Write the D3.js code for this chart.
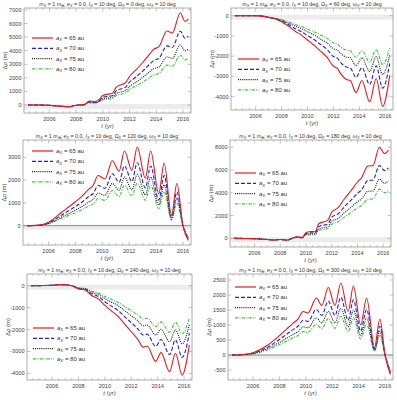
<!DOCTYPE html>
<html lang="en">
<head>
<meta charset="UTF-8">
<title>Delta rho panels</title>
<style>
  body { margin: 0; background: #fff; }
  svg { display: block; font-family: "Liberation Sans", Arial, sans-serif; }
  .frame { fill: none; stroke: #9a9a9a; stroke-width: 0.8px; }
  .tick { stroke: #9a9a9a; stroke-width: 0.6px; }
  .ticklab { font-size: 5.6px; fill: #444; }
  .title { font-size: 5.3px; fill: #333; }
  .axlab { font-size: 6px; fill: #444; }
  .leg { font-size: 6px; fill: #333; }
</style>
</head>
<body>
<svg width="397" height="400"></svg>
<script src="https://d3js.org/d3.v7.min.js"></script>
<script>
// series labels (a_X in au)
const semiAxes = [65, 70, 75, 80];

// Omega_X = 0 deg
const t_om0 = [2004.4, 2005, 2006, 2007, 2007.5, 2007.8, 2008.2, 2008.6, 2009.0, 2009.4, 2009.7, 2010.0, 2010.4, 2010.7, 2011.0, 2011.4, 2011.7, 2012.0, 2012.5, 2013.0, 2013.5, 2013.8, 2014.2, 2014.8, 2015.2, 2015.8, 2016.15, 2016.4];
const om0_a65 = [0, 0, -30, -100, -130, -60, 0, 30, 300, 250, 380, 700, 800, 850, 1300, 1500, 1650, 2100, 2600, 3150, 3750, 4100, 4300, 5450, 5300, 6800, 6150, 6350];
const om0_a70 = [0, 0, -30, -100, -130, -60, 0, 25, 250, 200, 300, 560, 640, 680, 1040, 1200, 1320, 1680, 2080, 2520, 3000, 3280, 3440, 4360, 4240, 5440, 4920, 5080];
const om0_a75 = [0, 0, -30, -100, -130, -60, 0, 20, 200, 160, 250, 455, 520, 550, 845, 975, 1070, 1365, 1690, 2050, 2440, 2665, 2795, 3540, 3445, 4420, 4000, 4130];
const om0_a80 = [0, 0, -30, -100, -130, -60, 0, 15, 160, 135, 205, 380, 430, 460, 700, 810, 890, 1135, 1400, 1700, 2025, 2215, 2320, 2940, 2860, 3670, 3320, 3430];

// Omega_X = 60 deg
const t_om60 = [2004.4, 2006, 2006.5, 2007, 2007.5, 2008, 2008.5, 2009, 2009.5, 2010, 2010.5, 2011, 2011.5, 2012, 2012.3, 2012.6, 2013.0, 2013.3, 2013.75, 2014.2, 2014.8, 2015.3, 2015.8, 2016.35];
const om60_a65 = [0, 0, -20, -80, -150, -300, -500, -750, -950, -1200, -1450, -1750, -2050, -2500, -2600, -2900, -3150, -3200, -3800, -3200, -4250, -3100, -4480, -2950];
const om60_a70 = [0, 0, -20, -80, -150, -260, -420, -620, -780, -980, -1180, -1420, -1660, -2020, -2100, -2340, -2540, -2580, -3050, -2560, -3400, -2480, -3580, -2360];
const om60_a75 = [0, 0, -20, -80, -140, -220, -350, -500, -630, -790, -950, -1150, -1340, -1630, -1700, -1890, -2050, -2080, -2470, -2080, -2760, -2020, -2910, -1920];
const om60_a80 = [0, 0, -20, -80, -130, -190, -290, -420, -530, -660, -790, -950, -1110, -1350, -1400, -1570, -1700, -1730, -2050, -1730, -2300, -1670, -2420, -1590];

// Omega_X = 120 deg
const t_om120 = [2004.4, 2005, 2005.5, 2006, 2007, 2008, 2008.5, 2009, 2009.3, 2009.7, 2010.2, 2010.75, 2011.25, 2011.65, 2012.2, 2012.6, 2013.2, 2013.6, 2014.2, 2014.6, 2015.15, 2015.55, 2016.0, 2016.4];
const om120_a65 = [0, 10, 40, 150, 600, 1050, 1300, 1600, 1750, 2200, 2050, 2850, 2380, 3280, 2420, 3450, 2080, 3280, 1400, 2750, 450, 1850, 0, -650];
const om120_a70 = [0, 8, 32, 120, 480, 840, 1040, 1280, 1400, 1760, 1640, 2280, 1900, 2620, 1940, 2760, 1660, 2620, 1120, 2200, 360, 1480, 0, -600];
const om120_a75 = [0, 6, 26, 100, 390, 680, 845, 1040, 1140, 1430, 1330, 1850, 1550, 2130, 1570, 2240, 1350, 2130, 910, 1790, 290, 1200, 0, -560];
const om120_a80 = [0, 5, 22, 80, 325, 570, 700, 865, 945, 1190, 1110, 1540, 1285, 1770, 1310, 1860, 1120, 1770, 755, 1485, 245, 1000, 0, -520];

// Omega_X = 180 deg
const t_om180 = [2004.4, 2006, 2007, 2007.5, 2008, 2008.5, 2009.0, 2009.3, 2009.7, 2010.0, 2010.4, 2010.7, 2011.0, 2011.4, 2011.7, 2012.0, 2012.5, 2013.0, 2013.5, 2014.0, 2014.3, 2014.8, 2015.2, 2015.7, 2016.1, 2016.4];
const om180_a65 = [0, -30, -100, -150, -100, -160, 50, 130, 80, 500, 600, 580, 1300, 1450, 1600, 2300, 2700, 3500, 4200, 4950, 5300, 6350, 6400, 8000, 7450, 7750];
const om180_a70 = [0, -30, -100, -150, -100, -160, 40, 105, 65, 400, 480, 465, 1040, 1160, 1280, 1840, 2160, 2800, 3360, 3960, 4240, 5080, 5120, 6400, 5960, 6200];
const om180_a75 = [0, -30, -100, -150, -100, -160, 35, 85, 50, 325, 390, 380, 845, 940, 1040, 1495, 1755, 2275, 2730, 3220, 3445, 4130, 4160, 5200, 4840, 5040];
const om180_a80 = [0, -30, -100, -150, -100, -160, 30, 70, 45, 270, 325, 315, 700, 785, 865, 1240, 1460, 1890, 2270, 2670, 2860, 3430, 3455, 4320, 4020, 4190];

// Omega_X = 240 deg
const t_om240 = [2004.4, 2006, 2006.6, 2007.5, 2008, 2008.5, 2009, 2009.5, 2010, 2010.5, 2011, 2011.5, 2012, 2012.5, 2012.9, 2013.2, 2013.85, 2014.25, 2014.9, 2015.35, 2015.85, 2016.4];
const om240_a65 = [0, 20, 50, 0, -150, -200, -450, -600, -900, -1150, -1400, -1750, -2100, -2450, -2800, -2750, -3450, -3050, -3920, -3080, -4080, -2700];
const om240_a70 = [0, 20, 50, 0, -130, -170, -370, -490, -730, -930, -1130, -1410, -1690, -1970, -2250, -2210, -2770, -2450, -3140, -2470, -3270, -2160];
const om240_a75 = [0, 20, 50, 0, -110, -140, -300, -400, -590, -750, -910, -1140, -1370, -1600, -1830, -1790, -2250, -1990, -2550, -2010, -2650, -1760];
const om240_a80 = [0, 20, 50, 0, -90, -120, -250, -330, -490, -620, -760, -950, -1140, -1330, -1520, -1490, -1870, -1650, -2120, -1670, -2200, -1460];

// Omega_X = 300 deg
const t_om300 = [2004.4, 2005, 2006, 2007, 2008, 2008.5, 2009, 2009.4, 2009.8, 2010.15, 2010.8, 2011.2, 2011.7, 2012.2, 2012.65, 2013.2, 2013.6, 2014.15, 2014.6, 2015.2, 2015.6, 2016.0, 2016.4];
const om300_a65 = [0, 10, 80, 300, 650, 850, 1050, 1200, 1450, 1400, 1900, 1650, 2250, 1650, 2400, 1450, 2300, 1000, 1900, 250, 1200, 0, -650];
const om300_a70 = [0, 8, 65, 240, 520, 680, 840, 960, 1160, 1120, 1520, 1320, 1800, 1320, 1920, 1160, 1840, 800, 1520, 200, 960, 0, -600];
const om300_a75 = [0, 7, 52, 195, 420, 550, 680, 780, 940, 910, 1235, 1070, 1460, 1070, 1560, 940, 1495, 650, 1235, 160, 780, 0, -560];
const om300_a80 = [0, 6, 43, 160, 350, 460, 570, 650, 780, 755, 1025, 890, 1215, 890, 1295, 780, 1240, 540, 1025, 135, 650, 0, -520];

const yearTicks = [2006, 2008, 2010, 2012, 2014, 2016];

const styles = [
  { color: "#e8191c", dash: null },
  { color: "#1f1fe0", dash: "4,2" },
  { color: "#1a1a1a", dash: "1,1.1" },
  { color: "#3cc43c", dash: "3.2,1.3,1,1.3" }
];

const panels = [
  { omega: 0, t: t_om0, ys: [om0_a65, om0_a70, om0_a75, om0_a80],
    fx: [24, 191], fy: [8, 113], yd: [-590, 7150], yt: [0, 1000, 2000, 3000, 4000, 5000, 6000, 7000],
    leg: [32, 38], axisLine: false },
  { omega: 60, t: t_om60, ys: [om60_a65, om60_a70, om60_a75, om60_a80],
    fx: [231, 393], fy: [8, 110], yd: [-4660, 380], yt: [0, -1000, -2000, -3000, -4000],
    leg: [238, 59], axisLine: false },
  { omega: 120, t: t_om120, ys: [om120_a65, om120_a70, om120_a75, om120_a80],
    fx: [23, 191], fy: [140, 245], yd: [-850, 3760], yt: [0, 1000, 2000, 3000],
    leg: [32, 151], axisLine: true },
  { omega: 180, t: t_om180, ys: [om180_a65, om180_a70, om180_a75, om180_a80],
    fx: [230, 391], fy: [140, 247], yd: [-760, 8640], yt: [0, 2000, 4000, 6000, 8000],
    leg: [235, 173], axisLine: false },
  { omega: 240, t: t_om240, ys: [om240_a65, om240_a70, om240_a75, om240_a80],
    fx: [27, 192], fy: [274, 380], yd: [-4300, 534], yt: [0, -1000, -2000, -3000, -4000],
    leg: [33, 328], axisLine: false },
  { omega: 300, t: t_om300, ys: [om300_a65, om300_a70, om300_a75, om300_a80],
    fx: [228, 393], fy: [274, 380], yd: [-830, 2700], yt: [-500, 0, 500, 1000, 1500, 2000, 2500],
    leg: [235, 287], axisLine: true }
];

const svg = d3.select("svg");

// writes text made of [string, kind] parts; kind: "i" italic, "s" subscript, "si" italic subscript
function rich(el, parts) {
  let down = false;
  parts.forEach(([str, kind]) => {
    const ts = el.append("tspan").text(str);
    const sub = kind === "s" || kind === "si";
    if (kind === "i" || kind === "si") ts.attr("font-style", "italic");
    if (sub) ts.attr("font-size", "0.72em");
    if (sub && !down) { ts.attr("dy", 1.3); down = true; }
    else if (!sub && down) { ts.attr("dy", -1.3); down = false; }
  });
}

panels.forEach(p => {
  const x = d3.scaleLinear().domain([2004.1, 2016.6]).range(p.fx);
  const y = d3.scaleLinear().domain(p.yd).range([p.fy[1], p.fy[0]]);
  const g = svg.append("g");

  // light band along zero
  g.append("rect")
    .attr("x", p.fx[0]).attr("width", p.fx[1] - p.fx[0])
    .attr("y", y(0) - 1).attr("height", 5)
    .attr("fill", "#ececec");
  if (p.axisLine) {
    g.append("line")
      .attr("x1", p.fx[0]).attr("x2", p.fx[1])
      .attr("y1", y(0)).attr("y2", y(0))
      .attr("stroke", "#777").attr("stroke-width", 0.8);
  }

  // curves, 80 au drawn first so red is on top
  const line = d3.line().x(d => x(d[0])).y(d => y(d[1])).curve(d3.curveMonotoneX);
  for (let k = 3; k >= 0; k--) {
    const pts = p.t.map((tt, i) => [tt, p.ys[k][i]]);
    g.append("path")
      .attr("d", line(pts))
      .attr("fill", "none")
      .attr("stroke", styles[k].color)
      .attr("stroke-width", 1.1)
      .attr("stroke-dasharray", styles[k].dash);
  }

  // frame and ticks
  g.append("rect").attr("class", "frame")
    .attr("x", p.fx[0]).attr("y", p.fy[0])
    .attr("width", p.fx[1] - p.fx[0]).attr("height", p.fy[1] - p.fy[0]);

  const minorX = d3.range(2004.5, 2016.6, 0.5).filter(v => !yearTicks.includes(v));
  yearTicks.forEach(v => {
    g.append("line").attr("class", "tick").attr("x1", x(v)).attr("x2", x(v)).attr("y1", p.fy[1]).attr("y2", p.fy[1] - 3.5);
    g.append("line").attr("class", "tick").attr("x1", x(v)).attr("x2", x(v)).attr("y1", p.fy[0]).attr("y2", p.fy[0] + 3.5);
    g.append("text").attr("class", "ticklab").attr("x", x(v)).attr("y", p.fy[1] + 7.5)
      .attr("text-anchor", "middle").text(v);
  });
  minorX.forEach(v => {
    g.append("line").attr("class", "tick").attr("x1", x(v)).attr("x2", x(v)).attr("y1", p.fy[1]).attr("y2", p.fy[1] - 1.8);
    g.append("line").attr("class", "tick").attr("x1", x(v)).attr("x2", x(v)).attr("y1", p.fy[0]).attr("y2", p.fy[0] + 1.8);
  });
  p.yt.forEach(v => {
    g.append("line").attr("class", "tick").attr("x1", p.fx[0]).attr("x2", p.fx[0] + 3.5).attr("y1", y(v)).attr("y2", y(v));
    g.append("line").attr("class", "tick").attr("x1", p.fx[1]).attr("x2", p.fx[1] - 3.5).attr("y1", y(v)).attr("y2", y(v));
    g.append("text").attr("class", "ticklab").attr("x", p.fx[0] - 2.5).attr("y", y(v) + 2)
      .attr("text-anchor", "end").text(v < 0 ? "-" + Math.abs(v) : v);
  });

  // title
  const title = g.append("text").attr("class", "title")
    .attr("x", (p.fx[0] + p.fx[1]) / 2).attr("y", p.fy[0] - 2.2).attr("text-anchor", "middle");
  rich(title, [["m", "i"], ["X", "si"], [" = 1 "], ["m", "i"], ["⊕", "s"], ["; "], ["e", "i"], ["X", "si"],
    [" = 0.0, "], ["I", "i"], ["X", "si"], [" = 10 deg, Ω"], ["X", "si"], [" = " + p.omega + " deg, "],
    ["ω", "i"], ["X", "si"], [" = 10 deg"]]);

  // axis labels
  const xl = g.append("text").attr("class", "axlab")
    .attr("x", (p.fx[0] + p.fx[1]) / 2).attr("y", p.fy[1] + 15).attr("text-anchor", "middle");
  rich(xl, [["t", "i"], [" (yr)"]]);
  const yl = g.append("text").attr("class", "axlab")
    .attr("transform", `translate(${p.fx[0] - 17},${(p.fy[0] + p.fy[1]) / 2}) rotate(-90)`)
    .attr("text-anchor", "middle");
  rich(yl, [["Δ"], ["ρ", "i"], [" (m)"]]);

  // legend
  semiAxes.forEach((a, k) => {
    const ly = p.leg[1] + k * 10.3;
    g.append("line")
      .attr("x1", p.leg[0]).attr("x2", p.leg[0] + 21)
      .attr("y1", ly).attr("y2", ly)
      .attr("stroke", styles[k].color).attr("stroke-width", 1.2)
      .attr("stroke-dasharray", styles[k].dash);
    const lt = g.append("text").attr("class", "leg").attr("x", p.leg[0] + 24).attr("y", ly + 2);
    rich(lt, [["a", "i"], ["X", "si"], [" = " + a + " au"]]);
  });
});
</script>
</body>
</html>
